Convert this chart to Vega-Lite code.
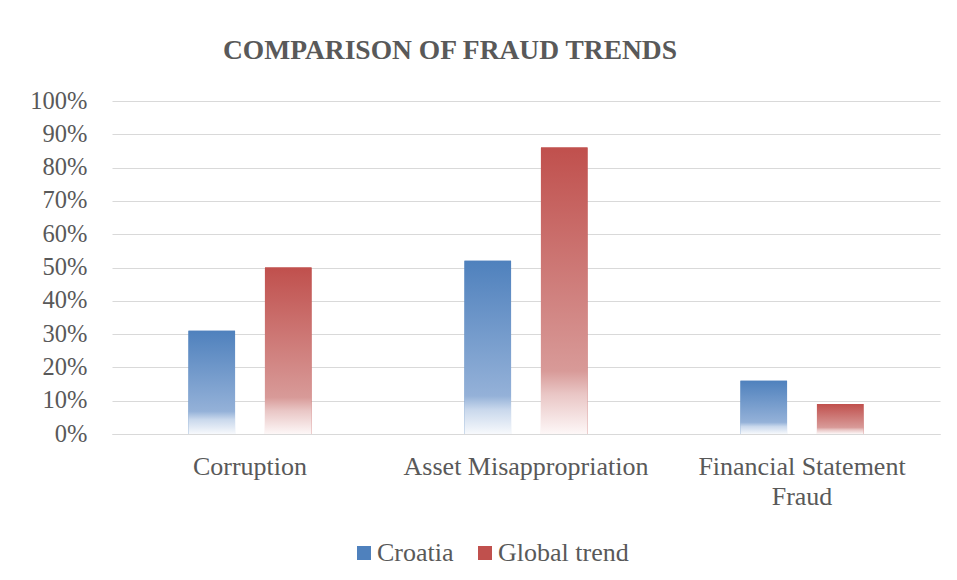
{
  "$schema": "https://vega.github.io/schema/vega-lite/v6.json",
  "width": 828,
  "height": 333,
  "autosize": {"type": "none"},
  "padding": {"left": 112, "top": 101, "right": 17, "bottom": 146},
  "background": "white",
  "title": {
    "text": "COMPARISON OF FRAUD TRENDS",
    "font": "Liberation Serif",
    "fontSize": 27.5,
    "fontWeight": "bold",
    "color": "#595959",
    "anchor": "middle",
    "frame": "group",
    "baseline": "bottom",
    "offset": 34,
    "dx": -76,
    "dy": 38
  },
  "data": {
    "values": [
      {"category": "Corruption", "series": "Croatia", "value": 0.31},
      {"category": "Corruption", "series": "Global trend", "value": 0.50},
      {"category": "Asset Misappropriation", "series": "Croatia", "value": 0.52},
      {"category": "Asset Misappropriation", "series": "Global trend", "value": 0.86},
      {"category": "Financial Statement Fraud", "series": "Croatia", "value": 0.16},
      {"category": "Financial Statement Fraud", "series": "Global trend", "value": 0.09}
    ]
  },
  "encoding": {
    "x": {
      "field": "category",
      "type": "nominal",
      "sort": ["Corruption", "Asset Misappropriation", "Financial Statement Fraud"],
      "scale": {"paddingInner": 0, "paddingOuter": 0},
      "axis": {
        "title": null,
        "labelAngle": 0,
        "ticks": false,
        "domainColor": "#D9D9D9",
        "domainWidth": 1,
        "labelPadding": 19,
        "labelFont": "Liberation Serif",
        "labelFontSize": 26,
        "labelColor": "#595959",
        "labelLimit": 400,
        "labelLineHeight": 30,
        "labelExpr": "datum.label == 'Financial Statement Fraud' ? ['Financial Statement', 'Fraud'] : datum.label"
      }
    },
    "xOffset": {
      "field": "series",
      "type": "nominal",
      "scale": {"paddingInner": 0.391, "paddingOuter": 1.02}
    },
    "y": {
      "field": "value",
      "type": "quantitative",
      "scale": {"domain": [0, 1]},
      "axis": {
        "title": null,
        "format": ".0%",
        "values": [0, 0.1, 0.2, 0.3, 0.4, 0.5, 0.6, 0.7, 0.8, 0.9, 1],
        "domain": false,
        "ticks": false,
        "gridColor": "#D9D9D9",
        "gridWidth": 1,
        "labelPadding": 25,
        "labelFont": "Liberation Serif",
        "labelFontSize": 24.5,
        "labelColor": "#595959"
      }
    }
  },
  "layer": [
    {
      "mark": {"type": "bar"},
      "encoding": {
        "color": {
          "field": "series",
          "type": "nominal",
          "scale": {"domain": ["Croatia", "Global trend"], "range": ["#4F81BD", "#C0504D"]},
          "legend": {
            "title": null,
            "orient": "none",
            "direction": "horizontal",
            "legendX": 239,
            "legendY": 439,
            "symbolType": "square",
            "symbolSize": 196,
            "symbolStrokeWidth": 0,
            "labelFont": "Liberation Serif",
            "labelFontSize": 26,
            "labelColor": "#595959",
            "labelOffset": 0,
            "columnPadding": 18
          }
        }
      }
    },
    {
      "transform": [{"filter": "datum.series == 'Croatia'"}],
      "mark": {
        "type": "bar",
        "color": {
          "gradient": "linear",
          "x1": 0, "y1": 0, "x2": 0, "y2": 1,
          "stops": [
            {"offset": 0, "color": "#4F81BD"},
            {"offset": 0.78, "color": "#94B1D8"},
            {"offset": 0.86, "color": "#C9D8EC"},
            {"offset": 1, "color": "#F7F9FC"}
          ]
        }
      }
    },
    {
      "transform": [{"filter": "datum.series == 'Global trend'"}],
      "mark": {
        "type": "bar",
        "color": {
          "gradient": "linear",
          "x1": 0, "y1": 0, "x2": 0, "y2": 1,
          "stops": [
            {"offset": 0, "color": "#C0504D"},
            {"offset": 0.78, "color": "#D89A98"},
            {"offset": 0.86, "color": "#E9C6C5"},
            {"offset": 1, "color": "#FDF7F7"}
          ]
        }
      }
    }
  ],
  "config": {"view": {"stroke": null}, "font": "Liberation Serif"}
}
